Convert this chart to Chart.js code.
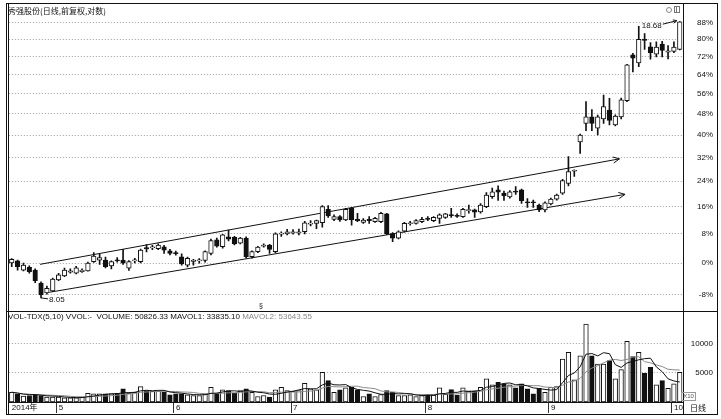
<!DOCTYPE html>
<html>
<head>
<meta charset="utf-8">
<script src="https://cdn.jsdelivr.net/npm/chart.js@4.4.1/dist/chart.umd.min.js"></script>
<style>
html,body{margin:0;padding:0;background:#fff;}
#wrap{position:relative;width:721px;height:419px;overflow:hidden;background:#fff;font-family:"Liberation Sans",Arial,"Noto Sans CJK SC",sans-serif;color:#111;}
canvas{position:absolute;display:block;}
.ln{position:absolute;background:#111;}
.txt{position:absolute;white-space:pre;font-size:8px;line-height:9px;}
</style>
</head>
<body>
<div id="wrap">
  <canvas id="price" width="721" height="311" style="left:0;top:0;"></canvas>
  <canvas id="vol" width="721" height="103" style="left:0;top:311px;"></canvas>

  <!-- frame -->
  <div class="ln" style="left:6px;top:3px;width:711px;height:1px;"></div>
  <div class="ln" style="left:6px;top:414px;width:712px;height:1px;"></div>
  <div class="ln" style="left:6px;top:3px;width:1px;height:412px;"></div>
  <div class="ln" style="left:8px;top:3px;width:1px;height:412px;"></div>
  <div class="ln" style="left:717px;top:3px;width:1px;height:412px;"></div>
  <div class="ln" style="left:683px;top:3px;width:1px;height:412px;"></div>
  <div class="ln" style="left:6px;top:311px;width:712px;height:1px;"></div>

  <div class="txt" style="left:8px;top:6px;font-family:'Noto Sans CJK SC',sans-serif;font-size:8px;line-height:10px;">秀强股份(日线,前复权,对数)</div>
  <div class="txt" style="left:8px;top:312px;">VOL-TDX(5,10) VVOL:-  VOLUME: 50826.33 MAVOL1: 33835.10 <span style="color:#8a8a8a">MAVOL2: 53643.55</span></div>
  <div class="txt" style="left:259px;top:301px;font-size:7px;">§</div>
  <div class="txt" style="left:681px;top:392px;width:13px;height:7px;border:1px solid #999;font-size:6px;line-height:7px;color:#555;text-align:center;">X10</div>
  <div class="txt" style="left:690px;top:403px;font-family:'Noto Sans CJK SC',sans-serif;font-size:8px;line-height:10px;">日线</div>
  <div style="position:absolute;left:666px;top:7px;width:4px;height:4px;border:1px solid #888;border-radius:50%;"></div>
  <div style="position:absolute;left:674px;top:6px;width:4px;height:5px;border:1px solid #777;"></div>
  <div style="position:absolute;left:676px;top:6px;width:1px;height:6px;background:#777;"></div>
</div>

<script>
// ---------------- data (percent change, log-price panel) ----------------
const openPct = [0.1,0.6,-1.8,-1.1,-1.8,-5.1,-7.5,-7.0,-4.3,-3.3,
 -2.3,-2.6,-2.2,-2.0,0.4,0.8,0.8,-0.7,0.9,0.8,
 -1.3,0.6,0.4,4.2,4.1,3.9,4.4,3.3,2.8,1.7,
 -0.5,0.5,0.6,0.7,2.6,6.3,4.4,7.2,7.0,5.4,
 6.8,1.7,3.1,4.6,4.9,3.1,7.9,8.0,8.3,8.3,
 8.6,10.8,11.0,11.2,15.2,12.2,13.0,12.0,15.5,12.2,
 11.3,12.2,11.5,11.5,13.8,8.1,6.8,8.8,10.9,11.0,
 11.5,12.5,11.8,12.5,12.8,13.6,13.4,13.0,14.8,15.0,
 14.4,16.0,19.1,21.2,20.2,19.0,20.8,21.2,17.5,17.5,
 16.5,15.0,16.8,18.3,20.2,23.3,27.3,37.5,44.3,46.8,
 42.5,46.0,49.5,43.8,46.8,53.2,72.8,69.2,80.0,76.5,
 73.1,77.7,74.0,74.3,75.3];
const highPct = [1.2,0.8,0.0,-0.7,-1.5,-4.8,-5.8,-3.8,-2.6,-1.3,
 -1.5,-0.8,-1.5,0.3,2.8,2.4,1.6,0.6,1.5,3.7,
 0.7,1.3,3.8,5.0,4.8,5.2,4.8,3.7,3.2,2.5,
 1.6,1.0,1.2,3.3,6.5,6.8,7.9,9.1,7.3,7.0,
 7.2,3.3,4.5,5.2,5.1,8.3,8.6,9.3,9.2,9.4,
 11.6,11.8,12.0,16.3,16.3,13.5,13.3,15.5,15.8,14.0,
 12.4,13.0,12.8,14.3,14.0,8.4,8.9,11.3,11.6,12.1,
 12.8,13.0,13.0,13.8,14.0,15.5,13.8,15.5,16.5,15.3,
 16.9,20.4,21.8,22.5,20.8,21.0,22.3,21.5,18.5,18.0,
 16.8,17.5,18.6,19.9,24.6,32.3,27.8,40.3,52.8,49.7,
 47.5,55.5,54.1,47.6,54.2,68.5,73.5,86.2,82.7,78.4,
 78.8,79.0,77.0,78.8,88.5];
const lowPct = [-0.9,-1.8,-2.0,-2.6,-5.0,-8.7,-7.8,-7.2,-4.5,-3.5,
 -2.6,-2.8,-2.4,-2.1,0.2,-0.3,-1.2,-1.5,0.3,-0.3,
 -1.9,0.1,0.1,3.0,3.6,3.6,2.6,2.2,2.1,-0.5,
 -1.0,-0.5,0.0,0.3,2.2,4.3,4.0,6.0,4.9,5.2,
 1.3,1.3,2.8,4.3,2.6,2.8,7.3,7.7,7.9,7.7,
 8.0,10.3,9.5,9.9,12.8,11.8,11.6,11.8,10.5,11.5,
 11.0,11.0,11.3,11.2,7.8,5.8,6.6,8.5,10.5,10.8,
 11.2,11.8,11.5,11.0,12.5,12.8,12.8,12.8,14.0,12.8,
 14.0,15.7,18.5,17.9,17.9,18.6,19.8,17.0,15.8,15.8,
 14.5,14.4,16.5,18.0,19.8,22.5,25.6,33.4,41.6,41.6,
 40.0,44.3,43.8,43.4,46.0,52.8,65.2,67.5,75.3,70.8,
 71.9,71.9,71.0,73.8,75.0];
const closePct = [1.0,-0.9,-0.5,-2.2,-4.5,-8.0,-6.4,-4.1,-3.0,-1.8,
 -2.0,-1.2,-1.8,0.0,1.9,1.5,-0.9,0.4,0.6,0.0,
 0.4,0.9,3.5,3.8,4.4,4.9,3.5,2.6,2.5,-0.2,
 1.3,0.8,0.9,3.1,6.1,4.6,7.7,6.5,5.2,6.8,
 1.7,3.1,4.3,4.9,3.7,8.0,8.2,8.6,8.6,8.6,
 11.2,11.1,11.8,16.0,13.2,13.0,12.0,15.2,12.0,11.8,
 12.0,11.8,12.5,14.0,8.0,6.8,8.6,11.0,11.2,11.8,
 12.2,12.2,12.8,13.5,13.8,13.3,13.1,15.2,15.1,14.3,
 16.5,19.6,20.6,20.5,19.4,20.6,20.5,17.8,17.2,17.2,
 15.0,17.2,18.3,19.6,24.2,27.2,27.6,40.0,46.8,44.3,
 46.8,50.8,45.5,47.1,53.5,68.3,71.3,80.0,79.4,73.8,
 76.3,74.8,74.6,76.3,88.4];
const volume = [1670,1390,990,1105,1220,1105,820,820,820,710,
 710,710,820,1500,1390,1390,1390,1390,1500,2240,
 1500,1670,2635,1955,1840,1840,1670,1220,1390,1390,
 1220,1105,1105,1390,2520,1500,2070,1955,1500,1955,
 2240,1670,935,1105,820,2070,2520,1955,1840,1955,
 3200,2240,2070,5070,3650,1670,2070,2400,2520,2070,
 935,1390,935,1280,1955,1670,1105,1105,1220,935,
 1105,1330,1190,2400,1300,2100,1200,2400,1900,1840,
 2520,3940,2920,3370,3090,2920,2400,3090,2240,1390,
 2350,1670,2520,2635,7340,8470,3770,7900,13290,7900,
 6490,6490,7055,3940,5525,10340,7735,8470,4900,5920,
 2920,3655,2350,3090,5070];

const monthTickIndex = [0, 8, 28, 48, 71, 92, 113];
const monthTickLabels = ['2014年', '5', '6', '7', '8', '9', '10'];
const priceTickPct = [-8, 0, 8, 16, 24, 32, 40, 48, 56, 64, 72, 80, 88];
const volumeTicks = [5000, 10000];

// trend channel (candle index, percent)
const trendUpper = [{x: 4.83, y: -0.3}, {x: 103.7, y: 31.5}];
const trendLower = [{x: 6.42, y: -7.35}, {x: 104.66, y: 19.8}];
const peakLabel = '18.68', peakIndex = 114;
const troughLabel = '8.05', troughIndex = 5;

// ---------------- build ----------------
const INK = '#111';
const FONT = '"Liberation Sans", Arial, "Noto Sans CJK SC", sans-serif';
const ratio = p => 1 + p / 100;
const idx = openPct.map((_, i) => i);
const isUp = idx.map(i => closePct[i] >= openPct[i]);
const bodyData = idx.map(i => ({x: i, y: [ratio(openPct[i]), ratio(closePct[i])]}));
const wickData = idx.map(i => ({x: i, y: [ratio(lowPct[i]), ratio(highPct[i])]}));

function movingAverage(arr, n) {
  return arr.map((_, i) => {
    const s = arr.slice(Math.max(0, i - n + 1), i + 1);
    return s.reduce((a, b) => a + b, 0) / s.length;
  });
}
const mavol1 = movingAverage(volume, 5);
const mavol2 = movingAverage(volume, 10);

const PLOT_LEFT = 8.8, RIGHT_PAD = 8, AXIS_W = 30.3;

function drawArrowHead(ctx, x0, y0, x1, y1, len) {
  const a = Math.atan2(y1 - y0, x1 - x0);
  ctx.beginPath();
  ctx.moveTo(x1 - len * Math.cos(a - 0.45), y1 - len * Math.sin(a - 0.45));
  ctx.lineTo(x1, y1);
  ctx.lineTo(x1 - len * Math.cos(a + 0.45), y1 - len * Math.sin(a + 0.45));
  ctx.stroke();
}

const annotate = {
  id: 'annotate',
  afterDatasetsDraw(chart) {
    const ctx = chart.ctx, xs = chart.scales.x, ys = chart.scales.y;
    ctx.save();
    ctx.strokeStyle = INK; ctx.fillStyle = INK; ctx.lineWidth = 1;
    [2, 3].forEach(di => {
      const pts = chart.getDatasetMeta(di).data;
      const p0 = pts[0], p1 = pts[pts.length - 1];
      drawArrowHead(ctx, p0.x, p0.y, p1.x, p1.y, 7);
    });
    ctx.font = '8px ' + FONT;
    ctx.textBaseline = 'middle';
    const px = xs.getPixelForValue(peakIndex) - 3;
    const py = ys.getPixelForValue(ratio(highPct[peakIndex])) - 1;
    ctx.beginPath(); ctx.moveTo(px - 14, py + 3.5); ctx.lineTo(px, py); ctx.stroke();
    drawArrowHead(ctx, px - 14, py + 3.5, px, py, 4);
    ctx.textAlign = 'right';
    ctx.fillText(peakLabel, px - 15, py + 5);
    const tx = xs.getPixelForValue(troughIndex);
    const ty = ys.getPixelForValue(ratio(lowPct[troughIndex]));
    ctx.beginPath(); ctx.moveTo(tx, ty); ctx.lineTo(tx + 7, ty + 1); ctx.stroke();
    ctx.textAlign = 'left';
    ctx.fillText(troughLabel, tx + 8, ty + 2);
    ctx.restore();
  }
};

Chart.defaults.font.family = FONT;
Chart.defaults.font.size = 8;
Chart.defaults.color = INK;

new Chart(document.getElementById('price'), {
  type: 'bar',
  data: {
    datasets: [
      {type: 'bar', data: bodyData, grouped: false, barThickness: 4.6, minBarLength: 1,
       backgroundColor: idx.map(i => isUp[i] ? '#ffffff' : INK), borderColor: INK,
       borderWidth: 1, borderSkipped: false, order: 0},
      {type: 'bar', data: wickData, grouped: false, barThickness: 1,
       backgroundColor: INK, borderWidth: 0, order: 1},
      {type: 'line', data: trendUpper.map(p => ({x: p.x, y: ratio(p.y)})), borderColor: INK,
       borderWidth: 1, pointRadius: 0, order: 2},
      {type: 'line', data: trendLower.map(p => ({x: p.x, y: ratio(p.y)})), borderColor: INK,
       borderWidth: 1, pointRadius: 0, order: 3}
    ]
  },
  options: {
    responsive: false, animation: false, devicePixelRatio: 1, events: [],
    layout: {padding: {left: PLOT_LEFT, top: 4, right: RIGHT_PAD, bottom: 1}},
    plugins: {legend: {display: false}, tooltip: {enabled: false}},
    scales: {
      x: {type: 'linear', min: -0.5, max: 114.5, offset: false, bounds: 'data', display: false,
          grid: {offset: false}},
      y: {type: 'logarithmic', position: 'right', min: 0.8844, max: 1.9745, bounds: 'data',
          afterBuildTicks: s => { s.ticks = priceTickPct.map(p => ({value: ratio(p)})); },
          afterFit: s => { s.width = AXIS_W; s.paddingTop = 0; s.paddingBottom = 0; },
          ticks: {autoSkip: false, crossAlign: 'far', padding: 4, color: INK, font: {size: 8},
                  callback: v => Math.round((v - 1) * 100) + '%'},
          grid: {color: '#9c9c9c', lineWidth: 1, drawTicks: false},
          border: {display: false, dash: [1, 2]}}
    }
  },
  plugins: [annotate]
});

new Chart(document.getElementById('vol'), {
  type: 'bar',
  data: {
    datasets: [
      {type: 'line', data: mavol1.map((v, i) => ({x: i, y: v})), borderColor: INK, borderWidth: 1,
       pointRadius: 0, order: 0},
      {type: 'line', data: mavol2.map((v, i) => ({x: i, y: v})), borderColor: '#8a8a8a', borderWidth: 1,
       pointRadius: 0, order: 1},
      {type: 'bar', data: volume.map((v, i) => ({x: i, y: v})), grouped: false, barThickness: 4.6,
       backgroundColor: idx.map(i => isUp[i] ? '#ffffff' : INK), borderColor: INK,
       borderWidth: 1, borderSkipped: false, order: 2}
    ]
  },
  options: {
    responsive: false, animation: false, devicePixelRatio: 1, events: [],
    layout: {padding: {left: PLOT_LEFT, top: 0, right: RIGHT_PAD, bottom: 0}},
    plugins: {legend: {display: false}, tooltip: {enabled: false}},
    scales: {
      x: {type: 'linear', min: -0.5, max: 114.5, offset: false, bounds: 'data', position: 'bottom',
          afterBuildTicks: s => { s.ticks = monthTickIndex.map(i => ({value: i - 0.33})); },
          afterFit: s => { s.height = 12; s.paddingLeft = 0; s.paddingRight = 0; },
          ticks: {autoSkip: false, maxRotation: 0, minRotation: 0, align: 'start', labelOffset: 2,
                  padding: -10, color: INK, font: {size: 8},
                  callback: (v, k) => monthTickLabels[k]},
          grid: {offset: false, drawOnChartArea: false, drawTicks: true, tickLength: 11, tickWidth: 1,
                 tickColor: c => c.index === 0 ? 'rgba(0,0,0,0)' : '#333'},
          border: {display: true, color: INK, width: 1}},
      y: {type: 'linear', position: 'right', min: 0, max: 15529, bounds: 'data',
          afterBuildTicks: s => { s.ticks = volumeTicks.map(v => ({value: v})); },
          afterFit: s => { s.width = AXIS_W; s.paddingTop = 0; s.paddingBottom = 0; },
          ticks: {autoSkip: false, crossAlign: 'far', padding: 4, color: INK, font: {size: 8},
                  callback: v => String(v)},
          grid: {color: '#9c9c9c', lineWidth: 1, drawTicks: false},
          border: {display: false, dash: [1, 2]}}
    }
  }
});
</script>
</body>
</html>
